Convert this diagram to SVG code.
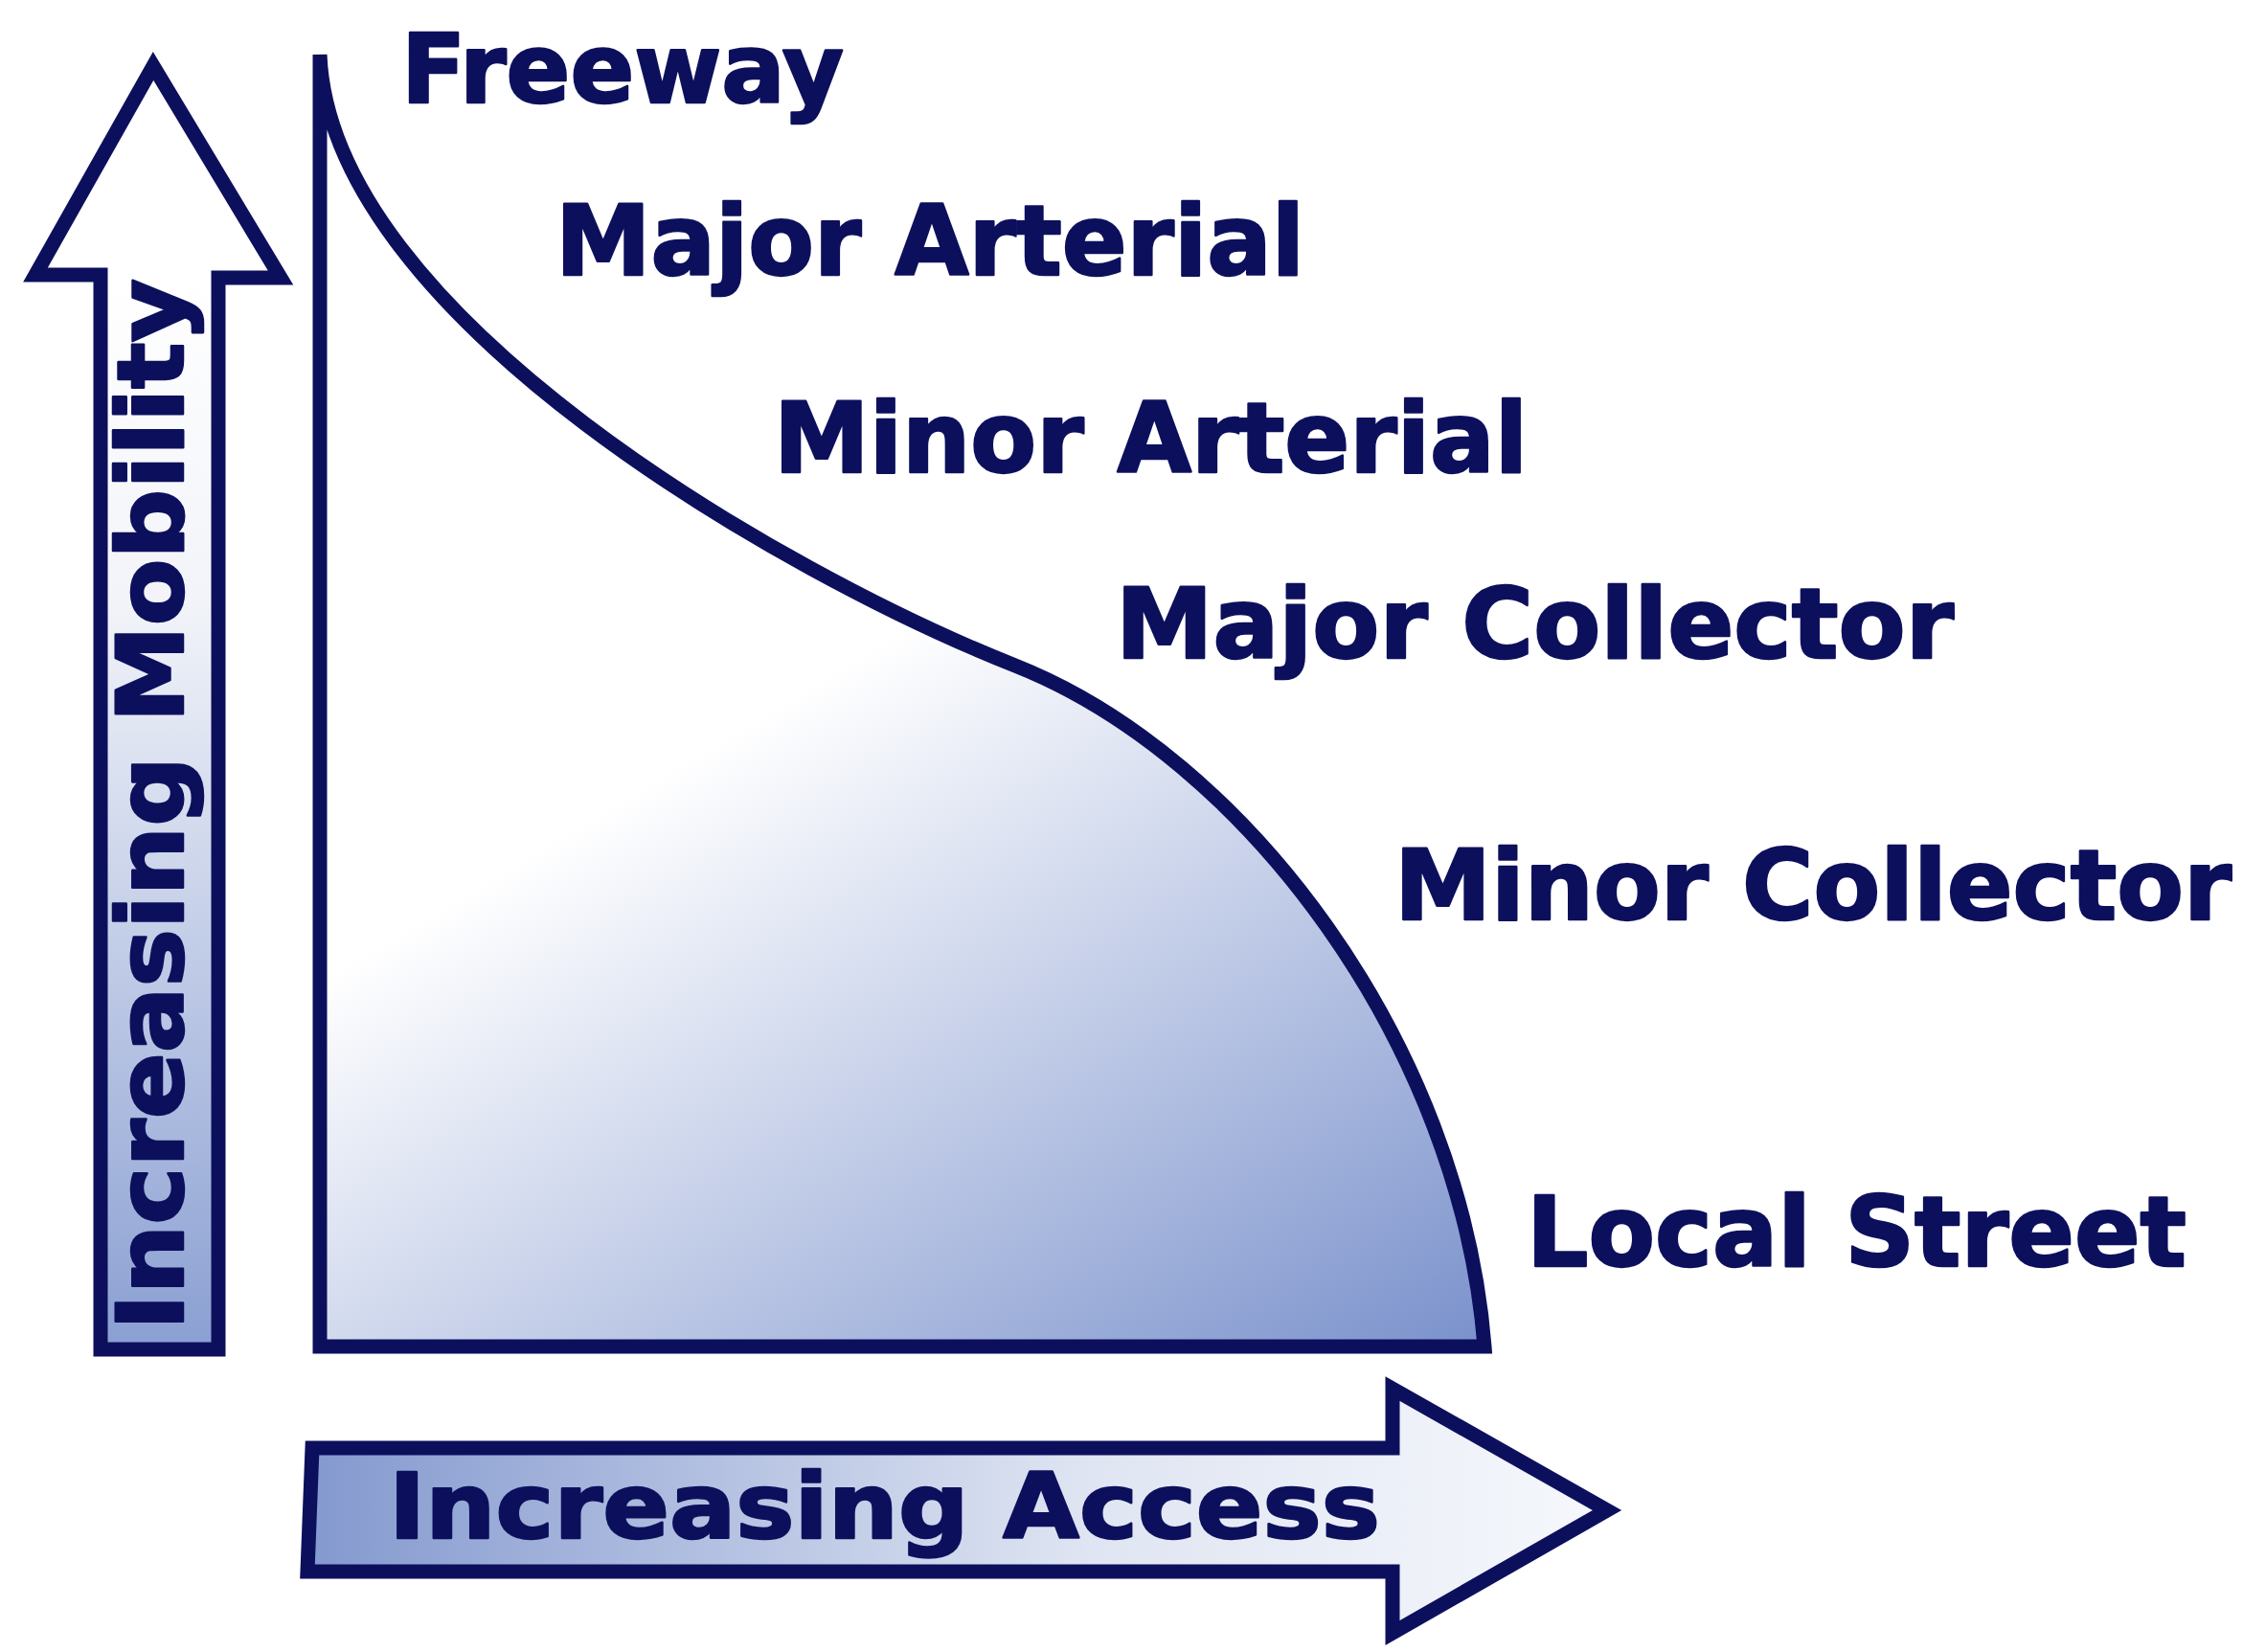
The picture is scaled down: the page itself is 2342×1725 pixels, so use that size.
<svg xmlns="http://www.w3.org/2000/svg" width="2342" height="1725" viewBox="0 0 2342 1725">
<style>
.lbl{font-family:"DejaVu Sans",Verdana,sans-serif;font-weight:bold;fill:#0c105c;stroke:#0c105c;stroke-width:2.5;stroke-linejoin:round;}
.shape{stroke:#0c105c;stroke-width:15;stroke-linejoin:miter;stroke-miterlimit:6;}
</style>
<defs>
<linearGradient id="gArea" gradientUnits="userSpaceOnUse" x1="541" y1="900" x2="1026" y2="1708">
<stop offset="0" stop-color="#ffffff"/>
<stop offset="1" stop-color="#7b92cc"/>
</linearGradient>
<linearGradient id="gVert" gradientUnits="userSpaceOnUse" x1="0" y1="290" x2="0" y2="1410">
<stop offset="0" stop-color="#ffffff"/>
<stop offset="0.3" stop-color="#f2f4f9"/>
<stop offset="1" stop-color="#8a9fd2"/>
</linearGradient>
<linearGradient id="gHorz" gradientUnits="userSpaceOnUse" x1="324" y1="0" x2="1680" y2="0">
<stop offset="0" stop-color="#8499cf"/>
<stop offset="0.6" stop-color="#dfe5f2"/>
<stop offset="1" stop-color="#f6f8fc"/>
</linearGradient>
</defs>
<rect width="2342" height="1725" fill="#ffffff"/>
<g id="area">
<path class="shape" fill="url(#gArea)" d="M334,57 C345,330 820,600 1060,695 C1300,790 1525,1090 1550,1406 L334,1406 Z"/>
</g>
<g id="mobility-arrow">
<path class="shape" fill="url(#gVert)" d="M105,1409 L105,287 L37,287 L160,69 L293,290 L228,290 L228,1409 Z"/>
<text class="lbl" font-size="96" transform="translate(191,1389) rotate(-90)" textLength="1098" lengthAdjust="spacingAndGlyphs">Increasing Mobility</text>
</g>
<g id="access-arrow">
<path class="shape" fill="url(#gHorz)" d="M326,1512 L1454,1512 L1454,1450 L1678,1577 L1454,1705 L1454,1641 L321,1641 Z"/>
<text class="lbl" font-size="94" x="406" y="1606" textLength="1035" lengthAdjust="spacingAndGlyphs">Increasing Access</text>
</g>
<g id="labels">
<text id="freeway" class="lbl" font-size="100" x="419" y="107" textLength="462" lengthAdjust="spacingAndGlyphs">Freeway</text>
<text id="major-arterial" class="lbl" font-size="102" x="580" y="287" textLength="782" lengthAdjust="spacingAndGlyphs">Major Arterial</text>
<text id="minor-arterial" class="lbl" font-size="102" x="808" y="493" textLength="787" lengthAdjust="spacingAndGlyphs">Minor Arterial</text>
<text id="major-collector" class="lbl" font-size="102" x="1165" y="687" textLength="875" lengthAdjust="spacingAndGlyphs">Major Collector</text>
<text id="minor-collector" class="lbl" font-size="102" x="1456" y="960" textLength="874" lengthAdjust="spacingAndGlyphs">Minor Collector</text>
<text id="local-street" class="lbl" font-size="102" x="1594" y="1322" textLength="689" lengthAdjust="spacingAndGlyphs">Local Street</text>
</g>
</svg>
